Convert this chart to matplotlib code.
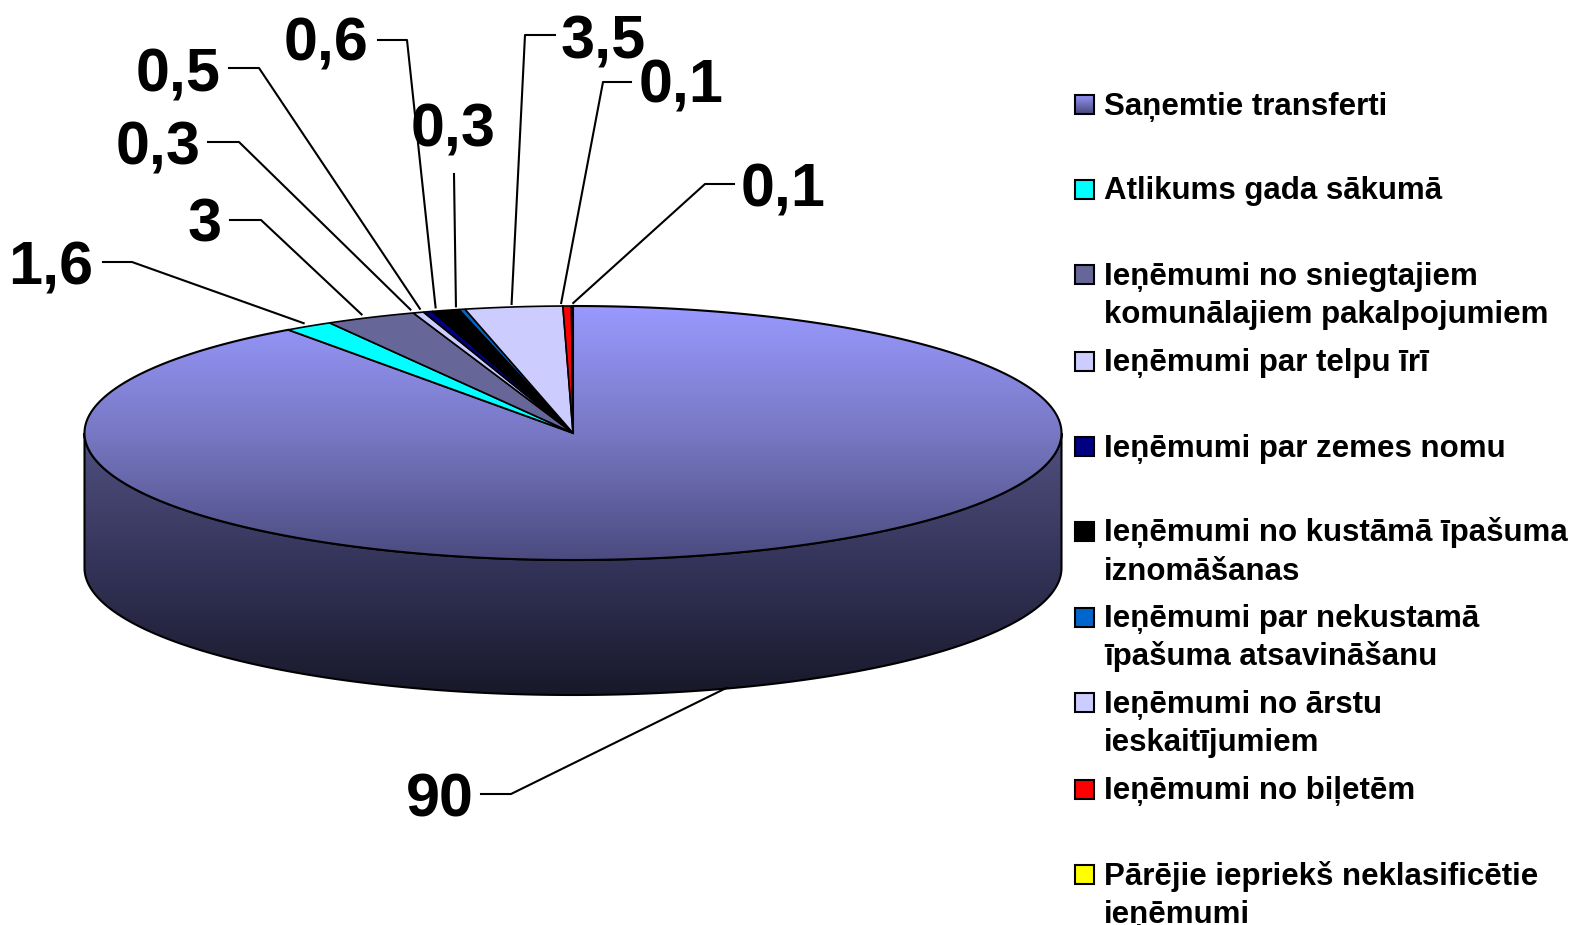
import numpy as np
import matplotlib
matplotlib.use('Agg')
import matplotlib.pyplot as plt
from matplotlib.colors import LinearSegmentedColormap
from matplotlib.patches import Polygon, Rectangle

plt.rcParams['font.family'] = ['Liberation Sans', 'DejaVu Sans']

# Data
categories = ['Saņemtie transferti', 'Atlikums gada sākumā',
              'Ieņēmumi no sniegtajiem\nkomunālajiem pakalpojumiem',
              'Ieņēmumi par telpu īrī', 'Ieņēmumi par zemes nomu',
              'Ieņēmumi no kustāmā īpašuma\niznomāšanas',
              'Ieņēmumi par nekustamā\nīpašuma atsavināšanu',
              'Ieņēmumi no ārstu\nieskaitījumiem', 'Ieņēmumi no biļetēm',
              'Pārējie iepriekš neklasificētie\nieņēmumi']
data_labels = ['90', '1,6', '3', '0,3', '0,5', '0,6', '0,3', '3,5', '0,1', '0,1']
# slice sizes as measured on the picture, they differ a bit from the printed labels
slice_sizes = [90.1, 1.6, 3.0, 0.35, 0.3, 0.9, 0.2, 3.22, 0.28, 0.05]
colors = ['#9999FF', '#00FFFF', '#666699', '#CCCCFF', '#000080',
          '#000000', '#0066CC', '#CCCCFF', '#FF0000', '#FFFF00']

# Layout (pixels)
cx, cy = 573, 433
rx, ry = 488.5, 127
depth = 135
label_pos = [(440, 801), (51, 269), (205, 226), (158, 149), (178, 76),
             (326, 45), (453, 131), (603, 43), (681, 87), (783, 191)]
elbow = [[(481, 794), (511, 794)], [(103, 262), (132, 262)], [(230, 220), (261, 220)],
         [(208, 142), (239, 142)], [(229, 68), (259, 68)], [(378, 40), (407, 40)],
         [(454, 174)], [(555, 35), (525, 35)], [(631, 82), (603, 82)], [(734, 184), (705, 184)]]
tip_nudge = [4, -5, -9, -8, -8, -10, -6, -2, -6, 1]
legend_y = [104, 189, 274, 361, 446, 531, 617, 702, 789, 874]

fig = plt.figure(figsize=(15.75, 9.25), dpi=100)
ax = fig.add_axes([0, 0, 1, 1])


def rim(theta):
    # theta in degrees, clockwise from 12 o'clock
    t = np.radians(theta)
    return cx + rx * np.sin(t), cy - ry * np.cos(t)


def gradient(poly, stops, y0, y1, zorder):
    cmap = LinearSegmentedColormap.from_list('g', stops)
    img = ax.imshow(np.linspace(0, 1, 256).reshape(-1, 1), cmap=cmap, aspect='auto',
                    extent=(poly[:, 0].min(), poly[:, 0].max(), y1, y0), zorder=zorder)
    patch = Polygon(poly, closed=True, facecolor='none', edgecolor='black', lw=1.5, zorder=zorder + 0.1)
    ax.add_patch(patch)
    img.set_clip_path(patch)


top_stops = ['#9999FF', '#7878C4', '#4B4B80']
side_stops = ['#50507F', '#34345A', '#18182A']

# side wall, lower half of the disc
t = np.linspace(90, 270, 300)
xs, ys = rim(t)
wall = np.vstack([np.column_stack([xs, ys + depth]), np.column_stack([xs, ys])[::-1]])
gradient(wall, side_stops, cy, cy + ry + depth, 1)

# top face slices
edges = np.cumsum([0] + slice_sizes) / sum(slice_sizes) * 360
for i, size in enumerate(slice_sizes):
    t = np.linspace(edges[i], edges[i + 1], max(3, int(edges[i + 1] - edges[i]) * 2))
    xs, ys = rim(t)
    poly = np.vstack([[cx, cy], np.column_stack([xs, ys])])
    if i == 0:
        gradient(poly, top_stops, cy - ry, cy + ry, 2)
    else:
        ax.add_patch(Polygon(poly, closed=True, facecolor=colors[i], edgecolor='black', lw=1.2, zorder=3))

# leader lines and value labels
mids = (edges[:-1] + edges[1:]) / 2
for i, lab in enumerate(data_labels):
    x, y = rim(mids[i])
    if i == 0:
        y = y + depth - 1
    else:
        y = y - 3
    pts = elbow[i] + [(x + tip_nudge[i], y)]
    ax.plot([p[0] for p in pts], [p[1] for p in pts], color='black', lw=1.5, zorder=4)
    ax.text(label_pos[i][0], label_pos[i][1], lab, fontsize=44, fontweight='bold', ha='center', va='center')

# legend
for i, cat in enumerate(categories):
    yc = legend_y[i]
    if i == 0:
        sq = np.array([[1075, yc - 9.5], [1094, yc - 9.5], [1094, yc + 9.5], [1075, yc + 9.5]])
        gradient(sq, ['#9999FF', '#4B4B80'], yc - 9.5, yc + 9.5, 5)
    else:
        ax.add_patch(Rectangle((1075, yc - 9.5), 19, 19, facecolor=colors[i], edgecolor='black', lw=1.5, zorder=5))
    for j, line in enumerate(cat.split('\n')):
        ax.text(1104, yc + 10.5 + j * 38, line, fontsize=22.5, fontweight='bold', ha='left', va='baseline')

ax.set_xlim(0, 1575)
ax.set_ylim(925, 0)
ax.axis('off')
fig.savefig('out.png', dpi=100, facecolor='white')
